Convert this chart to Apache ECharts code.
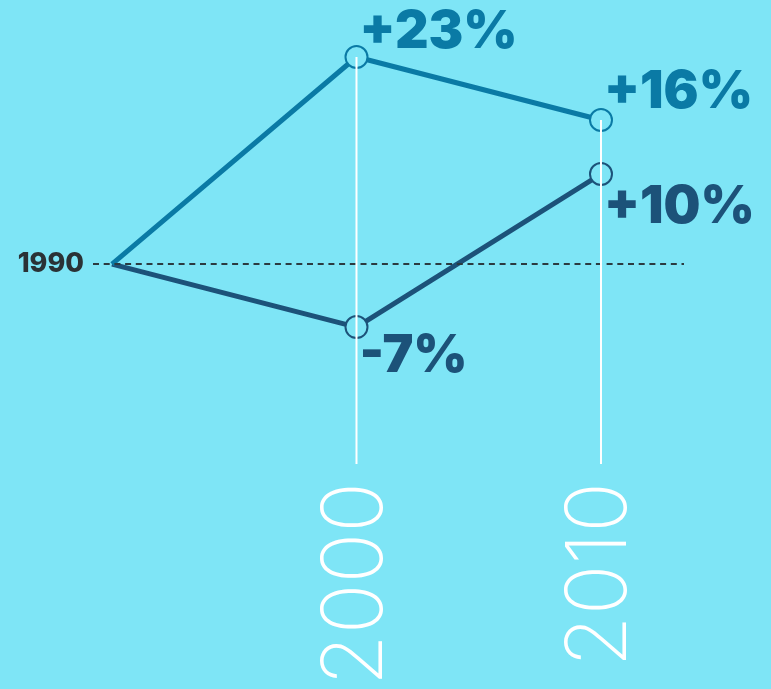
<!DOCTYPE html>
<html>
<head>
<meta charset="utf-8">
<script src="https://cdn.jsdelivr.net/npm/echarts@6/dist/echarts.min.js"></script>
<style>
html,body{margin:0;padding:0;background:#7ee5f6;}
#c{width:771px;height:689px;}
</style>
</head>
<body>
<div id="c"></div>
<script>
// ---- data ----
const years = [1990, 2000, 2010];
const upperValues = [0, 23, 16];
const lowerValues = [0, -7, 10];
const baseYearLabel = '1990';
const axisYears = [2000, 2010];

// ---- styles ----
const BG = '#7ee5f6';
const C_UP = '#0a7aa5';
const C_LOW = '#1c5279';
const upOffsets = [null, [-9, -25], [-9, -28]];
const lowOffsets = [null, [-9, 29], [-9, 33]];
const Y_MIN = -22.2, Y_MAX = 28;

function fmt(v) { return (v > 0 ? '+' : '') + v + '%'; }

function buildData(vals, color, offsets) {
  return years.map((y, i) => ({
    value: [y, vals[i]],
    symbol: i === 0 ? 'none' : 'circle',
    label: {
      show: i > 0,
      position: 'right',
      distance: 0,
      offset: offsets[i] || [0, 0],
      formatter: fmt(vals[i]),
      color: color,
      fontFamily: 'Inter',
      fontWeight: 900,
      fontSize: 52
    }
  }));
}

function verticalLine(idx) {
  const top = Math.max(upperValues[idx], lowerValues[idx]);
  return {
    type: 'line',
    z: 5,
    silent: true,
    symbol: 'none',
    lineStyle: { color: '#ffffff', width: 2 },
    data: [[years[idx], top], [years[idx], Y_MIN]]
  };
}

const chart = echarts.init(document.getElementById('c'), null, { renderer: 'canvas' });
chart.setOption({
  backgroundColor: BG,
  animation: false,
  grid: { left: 93, right: 87, top: 12, bottom: 222, containLabel: false },
  xAxis: {
    type: 'value',
    min: 1989.223,
    max: 2013.395,
    axisLine: { show: false },
    axisTick: { show: false },
    splitLine: { show: false },
    axisLabel: {
      customValues: axisYears,
      rotate: 90,
      margin: 18,
      color: '#ffffff',
      fontFamily: 'Inter',
      fontWeight: 200,
      fontSize: 84,
      formatter: v => String(v)
    }
  },
  yAxis: {
    type: 'value',
    min: Y_MIN,
    max: Y_MAX,
    axisLine: { show: false },
    axisTick: { show: false },
    splitLine: { show: false },
    axisLabel: {
      customValues: [0],
      formatter: () => baseYearLabel,
      margin: 9,
      color: '#2a3236',
      fontFamily: 'Inter',
      fontWeight: 800,
      fontSize: 27
    }
  },
  series: [
    {
      type: 'line',
      name: 'lower',
      z: 2,
      data: buildData(lowerValues, C_LOW, lowOffsets),
      symbolSize: 22,
      lineStyle: { color: C_LOW, width: 5 },
      itemStyle: { color: BG, borderColor: C_LOW, borderWidth: 2 },
      markLine: {
        silent: true,
        symbol: 'none',
        label: { show: false },
        lineStyle: { color: '#2b3a40', width: 2, type: [6, 4.7] },
        data: [{ yAxis: 0 }]
      }
    },
    {
      type: 'line',
      name: 'upper',
      z: 3,
      data: buildData(upperValues, C_UP, upOffsets),
      symbolSize: 22,
      lineStyle: { color: C_UP, width: 5 },
      itemStyle: { color: BG, borderColor: C_UP, borderWidth: 2 }
    },
    verticalLine(1),
    verticalLine(2)
  ]
});
</script>
</body>
</html>
